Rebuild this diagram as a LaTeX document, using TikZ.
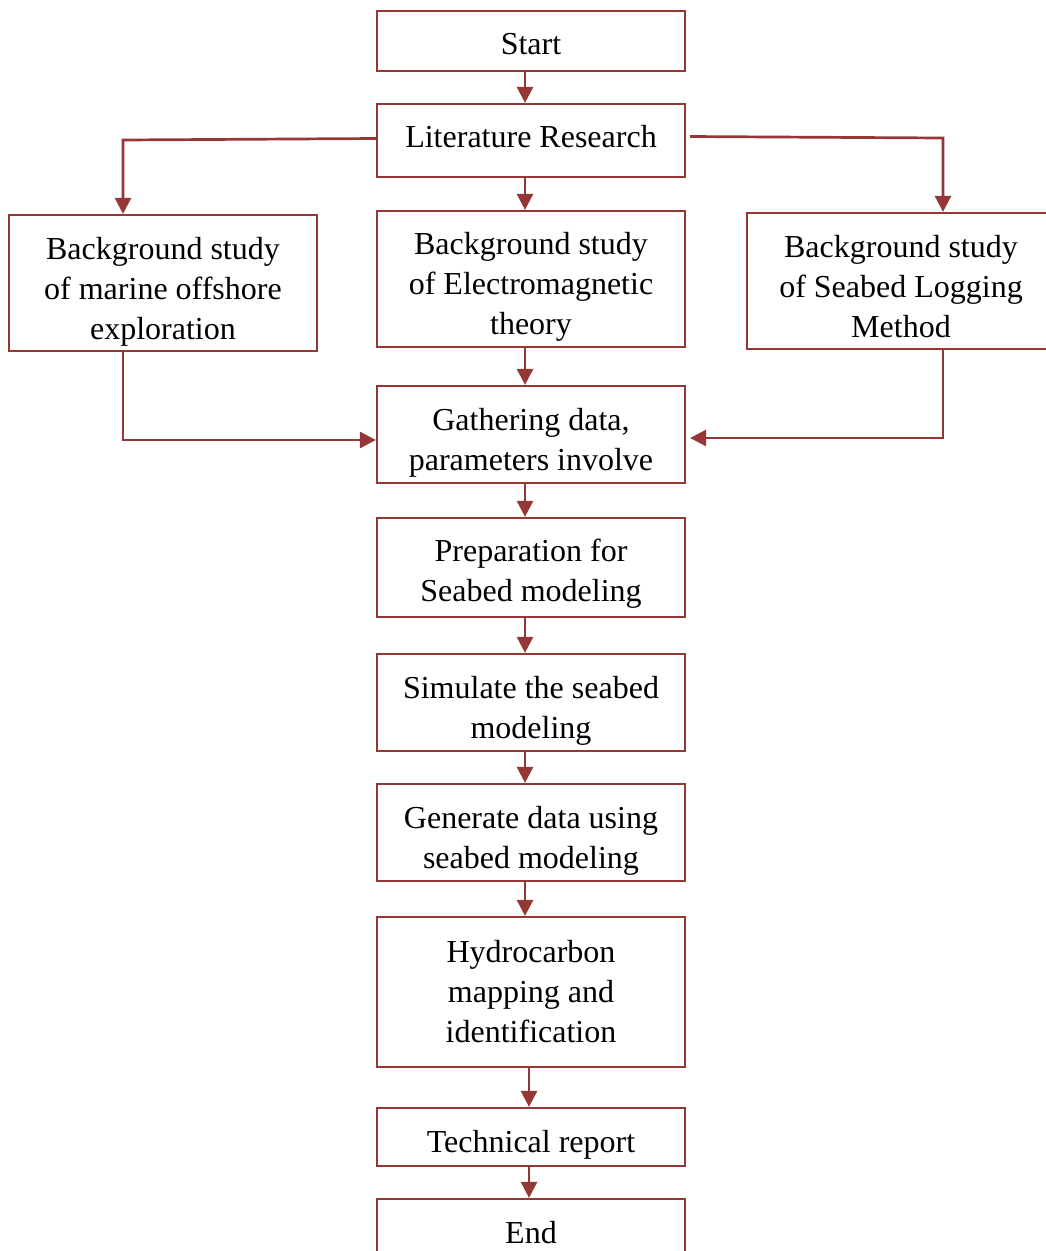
\documentclass[tikz,border=0pt]{standalone}
\usepackage{fontspec}
\setmainfont{Liberation Serif}
\usepackage{tikz}
\usetikzlibrary{positioning}
\usetikzlibrary{arrows.meta}
\definecolor{flowred}{RGB}{149,55,53}
% push the text of a box down (\lowr) or up (\upr) by #1
\newcommand{\lowr}[1]{\rule{0pt}{\dimexpr 22pt+#1+#1\relax}}
\newcommand{\upr}[1]{\rule[-\dimexpr #1+#1\relax]{0pt}{0pt}}
\tikzset{
    stepbox/.style = {rectangle, line width=2.2pt, draw=flowred, align=center, minimum width=308pt, inner sep=0pt},
    edgen/.style = {-{Triangle[width=16pt,length=16pt]}, line width=2.7pt, flowred}
}
\begin{document}
\begin{tikzpicture}[x=1pt,y=-1pt,font=\fontsize{32}{40}\selectfont]
\useasboundingbox (0,0) rectangle (1046,1251);
\node[stepbox, minimum height=60pt] at (531, 41) (start) {\lowr{3pt}Start};
\node[stepbox, minimum height=73pt] at (531, 140.5) (litres) {Literature Research\upr{4pt}};
\node[stepbox, minimum height=136pt] at (163, 283) (bgmarine) {\lowr{9pt}Background study\\of marine offshore\\exploration};
\node[stepbox, minimum height=136pt] at (531, 279) (bgem) {\lowr{8pt}Background study\\of Electromagnetic\\theory};
\node[stepbox, minimum height=136pt] at (901, 281) (bgsbl) {\lowr{6pt}Background study\\of Seabed Logging\\Method};
\node[stepbox, minimum height=97pt] at (531, 434.5) (gather) {\lowr{8pt}Gathering data,\\parameters involve};
\node[stepbox, minimum height=99pt] at (531, 567.5) (prep) {\lowr{6pt}Preparation for\\Seabed modeling};
\node[stepbox, minimum height=97pt] at (531, 702.5) (simul) {\lowr{8pt}Simulate the seabed\\modeling};
\node[stepbox, minimum height=97pt] at (531, 832.5) (gendata) {\lowr{8pt}Generate data using\\seabed modeling};
\node[stepbox, minimum height=150pt] at (531, 992) (hydro) {Hydrocarbon\\mapping and\\identification};
\node[stepbox, minimum height=58pt] at (531, 1137) (report) {\lowr{8pt}Technical report};
\node[stepbox, minimum height=66pt] at (531, 1232) (finish) {\lowr{1pt}End};
%
\draw[edgen] ([xshift=-6pt]start.south) -- ([xshift=-6pt]litres.north);
\draw[edgen] ([xshift=-6pt]litres.south) -- ([xshift=-6pt]bgem.north);
\draw[edgen] ([yshift=2pt]litres.west) -- (123, 140) -- ([xshift=-40pt]bgmarine.north);
\draw[edgen] ([xshift=4pt,yshift=4pt]litres.east) -- (943, 138) -- ([xshift=42pt]bgsbl.north);
\draw[edgen] ([xshift=-6pt]bgem.south) -- ([xshift=-6pt]gather.north);
\draw[edgen] ([xshift=-40pt]bgmarine.south) |- ([yshift=-5.5pt]gather.west);
\draw[edgen] ([xshift=42pt]bgsbl.south) |- ([xshift=4pt,yshift=-3.5pt]gather.east);
\draw[edgen] ([xshift=-6pt]gather.south) -- ([xshift=-6pt]prep.north);
\draw[edgen] ([xshift=-6pt]prep.south) -- ([xshift=-6pt]simul.north);
\draw[edgen] ([xshift=-6pt]simul.south) -- ([xshift=-6pt]gendata.north);
\draw[edgen] ([xshift=-6pt]gendata.south) -- ([xshift=-6pt]hydro.north);
\draw[edgen] ([xshift=-2pt]hydro.south) -- ([xshift=-2pt]report.north);
\draw[edgen] ([xshift=-2pt]report.south) -- ([xshift=-2pt]finish.north);

\end{tikzpicture}
\end{document}
